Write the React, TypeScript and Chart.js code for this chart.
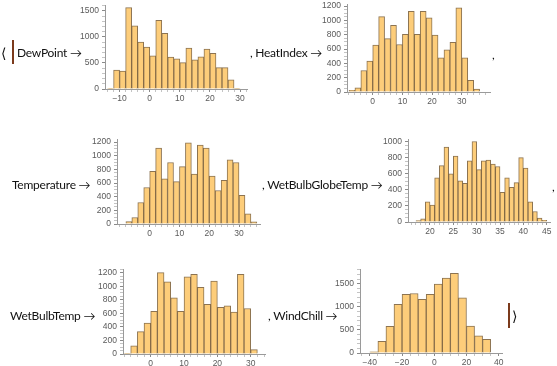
import React, { useEffect, useRef } from "react";
import { Chart, registerables } from "chart.js";

Chart.register(...registerables);

// ---------- data ----------
const dewPointEdges = [-14, -12, -10, -8, -6, -4, -2, 0, 2, 4, 6, 8, 10, 12, 14, 16, 18, 20, 22, 24, 26, 28, 30];
const dewPointCounts = [15, 362, 344, 1562, 1212, 900, 806, 637, 1319, 1069, 612, 581, 506, 787, 562, 619, 769, 687, 412, 412, 175, 15];

const heatIndexEdges = [-8, -6, -4, -2, 0, 2, 4, 6, 8, 10, 12, 14, 16, 18, 20, 22, 24, 26, 28, 30, 32, 34, 36];
const heatIndexCounts = [25, 59, 300, 432, 654, 1054, 745, 932, 663, 804, 1127, 804, 1127, 1036, 795, 477, 590, 695, 1177, 477, 164, 41];

const temperatureEdges = [-8, -6, -4, -2, 0, 2, 4, 6, 8, 10, 12, 14, 16, 18, 20, 22, 24, 26, 28, 30, 32, 34, 36];
const temperatureCounts = [35, 95, 315, 535, 770, 1110, 660, 900, 620, 840, 1190, 730, 1157, 1110, 700, 490, 640, 940, 900, 420, 150, 30];

const wbgtEdges = [17, 18, 19, 20, 21, 22, 23, 24, 25, 26, 27, 28, 29, 30, 31, 32, 33, 34, 35, 36, 37, 38, 39, 40, 41, 42, 43, 44, 45];
const wbgtCounts = [18, 40, 250, 210, 550, 700, 930, 600, 820, 510, 480, 760, 1000, 650, 760, 770, 720, 690, 370, 550, 430, 490, 800, 670, 250, 130, 50, 20];

const wetBulbEdges = [-8, -6, -4, -2, 0, 2, 4, 6, 8, 10, 12, 14, 16, 18, 20, 22, 24, 26, 28, 30, 32];
const wetBulbCounts = [10, 122, 331, 456, 628, 1199, 1065, 830, 628, 1137, 1175, 983, 734, 1074, 690, 710, 619, 1175, 671, 65];

const windChillEdges = [-40, -35, -30, -25, -20, -15, -10, -5, 0, 5, 10, 15, 20, 25, 30, 35];
const windChillCounts = [28, 254, 577, 1056, 1268, 1289, 1162, 1268, 1493, 1620, 1725, 1197, 585, 373, 296];

const dewPointXTicks = [-10, 0, 10, 20, 30];
const dewPointYTicks = [0, 500, 1000, 1500];
const heatIndexXTicks = [0, 10, 20, 30];
const heatIndexYTicks = [0, 200, 400, 600, 800, 1000, 1200];
const temperatureXTicks = [0, 10, 20, 30];
const temperatureYTicks = [0, 200, 400, 600, 800, 1000, 1200];
const wbgtXTicks = [20, 25, 30, 35, 40, 45];
const wbgtYTicks = [0, 200, 400, 600, 800, 1000];
const wetBulbXTicks = [0, 10, 20, 30];
const wetBulbYTicks = [0, 200, 400, 600, 800, 1000, 1200];
const windChillXTicks = [-40, -20, 0, 20, 40];
const windChillYTicks = [0, 500, 1000, 1500];

// ---------- styles ----------
const FILL = "rgb(253, 205, 122)";
const EDGE = "rgba(120, 90, 50, 0.85)";
const AXIS = "#9a9a9a";
const TICK_TEXT = "#5a5a5a";
const TICK_FONT = { family: "'Liberation Sans', Arial, sans-serif", size: 8.5 };
const LABEL_FONT = "Lato, 'Open Sans', sans-serif";
const BRACKET = "#7b3a1c";

const Y_AXIS_W = 32;
const X_AXIS_H = 16;
const PAD_T = 6;
const PAD_R = 6;

type HistCfg = {
  edges: number[];
  counts: number[];
  xMin: number;
  xMax: number;
  yMax: number;
  xTicks: number[];
  xMinor: number;
  yTicks: number[];
  yMinor: number;
  box: [number, number, number, number];
};

const fmt = (v: number) => (v < 0 ? "\u2212" + Math.abs(v) : String(v));

function range(from: number, to: number, step: number) {
  const out: number[] = [];
  const start = Math.ceil(from / step - 1e-9) * step;
  for (let v = start; v <= to + 1e-9; v += step) out.push(Math.round(v * 1000) / 1000);
  return out;
}

function Hist({ cfg }: { cfg: HistCfg }) {
  const ref = useRef<HTMLCanvasElement>(null);
  const [l, t, r, b] = cfg.box;
  const left = l - Y_AXIS_W;
  const top = t - PAD_T;
  const w = r - l + Y_AXIS_W + PAD_R;
  const h = b - t + PAD_T + X_AXIS_H;

  useEffect(() => {
    if (!ref.current) return;
    const isMajorX = (v: number) => cfg.xTicks.some((m) => Math.abs(m - v) < 1e-6);
    const isMajorY = (v: number) => cfg.yTicks.some((m) => Math.abs(m - v) < 1e-6);
    const chart = new Chart(ref.current, {
      type: "bar",
      data: {
        datasets: [
          {
            data: cfg.counts.map((c, i) => ({ x: (cfg.edges[i] + cfg.edges[i + 1]) / 2, y: c })),
            backgroundColor: FILL,
            borderColor: EDGE,
            borderWidth: 1,
            barPercentage: 1,
            categoryPercentage: 1,
            borderSkipped: "start",
          },
        ],
      },
      options: {
        responsive: false,
        animation: false,
        events: [],
        layout: { padding: { left: 0, top: PAD_T, right: PAD_R, bottom: 0 } },
        plugins: { legend: { display: false }, tooltip: { enabled: false } },
        scales: {
          x: {
            type: "linear",
            min: cfg.xMin,
            max: cfg.xMax,
            offset: false,
            afterBuildTicks: (s: any) => {
              s.ticks = range(cfg.xMin, cfg.xMax, cfg.xMinor).map((v) => ({ value: v }));
            },
            afterFit: (s: any) => {
              s.height = X_AXIS_H;
            },
            ticks: {
              autoSkip: false,
              maxRotation: 0,
              padding: 2,
              color: TICK_TEXT,
              font: TICK_FONT,
              callback: (v: any) => (isMajorX(Number(v)) ? fmt(Number(v)) : ""),
            },
            grid: {
              offset: false,
              drawOnChartArea: false,
              drawTicks: true,
              tickLength: 3,
              color: (ctx: any) => (ctx.tick && isMajorX(ctx.tick.value) ? "#8a8a8a" : "#c4c4c4"),
            },
            border: { display: true, color: AXIS, width: 1 },
          },
          y: {
            type: "linear",
            min: 0,
            max: cfg.yMax,
            afterBuildTicks: (s: any) => {
              s.ticks = range(0, cfg.yMax, cfg.yMinor).map((v) => ({ value: v }));
            },
            afterFit: (s: any) => {
              s.width = Y_AXIS_W;
            },
            ticks: {
              autoSkip: false,
              padding: 3,
              color: TICK_TEXT,
              font: TICK_FONT,
              callback: (v: any) => (isMajorY(Number(v)) ? fmt(Number(v)) : ""),
            },
            grid: {
              drawOnChartArea: false,
              drawTicks: true,
              tickLength: 3,
              color: (ctx: any) => (ctx.tick && isMajorY(ctx.tick.value) ? "#8a8a8a" : "#c4c4c4"),
            },
            border: { display: true, color: AXIS, width: 1 },
          },
        },
      } as any,
    });
    return () => chart.destroy();
  }, []);

  return (
    <canvas
      ref={ref}
      width={w}
      height={h}
      style={{ position: "absolute", left, top, width: w, height: h }}
    />
  );
}

const charts: HistCfg[] = [
  { edges: dewPointEdges, counts: dewPointCounts, xMin: -14.85, xMax: 32.3, yMax: 1612, xTicks: dewPointXTicks, xMinor: 2, yTicks: dewPointYTicks, yMinor: 100, box: [105, 3, 247, 89] },
  { edges: heatIndexEdges, counts: heatIndexCounts, xMin: -8.66, xMax: 39.5, yMax: 1228, xTicks: heatIndexXTicks, xMinor: 2, yTicks: heatIndexYTicks, yMinor: 50, box: [347, 2, 490, 92] },
  { edges: temperatureEdges, counts: temperatureCounts, xMin: -10.98, xMax: 37.05, yMax: 1243, xTicks: temperatureXTicks, xMinor: 2, yTicks: temperatureYTicks, yMinor: 50, box: [117, 137, 260, 224] },
  { edges: wbgtEdges, counts: wbgtCounts, xMin: 15.29, xMax: 45.71, yMax: 1030, xTicks: wbgtXTicks, xMinor: 1, yTicks: wbgtYTicks, yMinor: 50, box: [408, 137, 550, 222] },
  { edges: wetBulbEdges, counts: wetBulbCounts, xMin: -8.31, xMax: 34.29, yMax: 1252, xTicks: wetBulbXTicks, xMinor: 2, yTicks: wetBulbYTicks, yMinor: 50, box: [123, 267, 265, 354] },
  { edges: windChillEdges, counts: windChillCounts, xMin: -46.1, xMax: 42.05, yMax: 1817, xTicks: windChillXTicks, xMinor: 5, yTicks: windChillYTicks, yMinor: 100, box: [360, 267, 502, 353] },
];

type Label = { text: string; x: number; y: number };
const labels: Label[] = [
  { text: "DewPoint \u2192", x: 17, y: 53 },
  { text: ", HeatIndex \u2192", x: 250, y: 53 },
  { text: ",", x: 492, y: 55 },
  { text: "Temperature \u2192", x: 12, y: 185 },
  { text: ", WetBulbGlobeTemp \u2192", x: 262, y: 185 },
  { text: ",", x: 552, y: 187 },
  { text: "WetBulbTemp \u2192", x: 10, y: 316 },
  { text: ", WindChill \u2192", x: 268, y: 316 },
];

export default function App() {
  return (
    <div style={{ position: "absolute", left: 0, top: 0, width: 557, height: 366, background: "#fff", overflow: "hidden" }}>
      {charts.map((c, i) => (
        <Hist key={i} cfg={c} />
      ))}
      {labels.map((lb, i) => (
        <span
          key={i}
          style={{
            position: "absolute",
            left: lb.x,
            top: lb.y - 9,
            lineHeight: "18px",
            fontSize: 12,
            letterSpacing: "-0.25px",
            fontFamily: LABEL_FONT,
            color: "#111",
            whiteSpace: "nowrap",
          }}
        >
          {lb.text}
        </span>
      ))}
      <span style={{ position: "absolute", left: 1, top: 44, lineHeight: "18px", fontSize: 14, fontFamily: "'DejaVu Sans', sans-serif", color: "#111" }}>
        {"\u27e8"}
      </span>
      <div style={{ position: "absolute", left: 12, top: 40, width: 2, height: 24, background: BRACKET }} />
      <div style={{ position: "absolute", left: 508, top: 303, width: 2, height: 25, background: BRACKET }} />
      <span style={{ position: "absolute", left: 512, top: 307, lineHeight: "18px", fontSize: 14, fontFamily: "'DejaVu Sans', sans-serif", color: "#111" }}>
        {"\u27e9"}
      </span>
    </div>
  );
}
